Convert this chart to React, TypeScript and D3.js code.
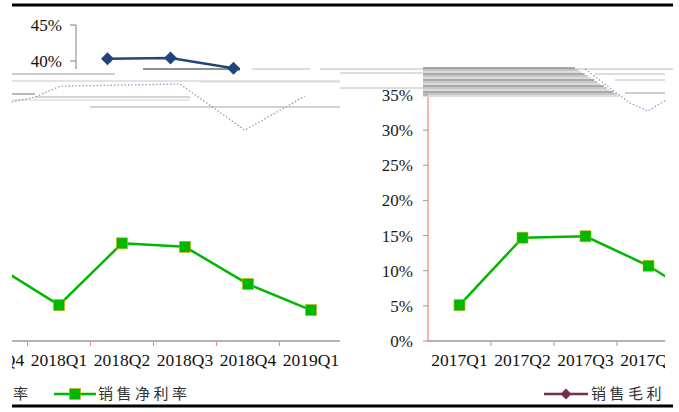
import React from "react";
import * as d3 from "d3";

// quarters and values
const quarters = ["2017Q1", "2017Q2", "2017Q3", "2017Q4", "2018Q1", "2018Q2", "2018Q3", "2018Q4", "2019Q1"];
const netMargin = [5.1, 14.7, 14.9, 10.7, 5.1, 13.9, 13.4, 8.1, 4.4];
const grossQuarters = ["2018Q1", "2018Q2", "2018Q3", "2018Q4"];
const grossMargin = [40.3, 40.4, 39.0, 37.6];
const ghostIdx = [-1.02, -0.65, -0.25, 1.65, 2.68, 3.63];
const ghostVals = [34.3, 35.0, 36.5, 36.8, 30.4, 35.1];
const rightTicks = [0, 5, 10, 15, 20, 25, 30, 35];
const topTicks = [40, 45];

const W = 679;
const H = 412;
const BW = 63;
const GREEN = "#00b800";
const NAVY = "#23467a";
const MAROON = "#722f4f";
const serif = "'Liberation Serif', 'Times New Roman', serif";
const cjk = "'Noto Sans CJK SC', sans-serif";

export default function App() {
  const yNet = d3.scaleLinear().domain([0, 35]).range([341, 95]);
  const xLeft = d3.scaleBand().domain(quarters).range([27.5 - 4 * BW, 27.5 + 5 * BW]);
  const xRight = d3.scaleBand().domain(quarters).range([428, 428 + 9 * BW]);
  const xTop = d3.scaleBand().domain(grossQuarters).range([76, 76 + 4 * BW]);
  const yTop = d3.scaleLinear().domain([40, 45]).range([61, 25]);
  const xGhost = d3.scaleLinear().domain([0, 1]).range([76, 76 + BW]);

  const netLine = (x: d3.ScaleBand<string>) =>
    d3.line<number>().x((_, i) => (x(quarters[i]) as number) + BW / 2).y((d) => yNet(d))(netMargin) as string;
  const grossLine = d3.line<number>().x((_, i) => (xTop(grossQuarters[i]) as number) + BW / 2).y((d) => yTop(d))(grossMargin) as string;
  const ghostLine = d3.line<number>().x((_, i) => xGhost(ghostIdx[i])).y((d) => yTop(d))(ghostVals) as string;

  // glitch strips (decoration)
  const rightRows = d3.range(68, 98, 2);
  const leftRows: [number, number, number, string][] = [
    [74, 12, 115, "#9a9a9a"],
    [81, 12, 340, "#c8c8c8"],
    [94, 12, 35, "#888"],
    [97, 35, 190, "#aaa"],
    [100, 12, 190, "#d0d0d0"],
    [107, 90, 340, "#a8a8a8"],
    [69, 143, 240, "#222"],
    [69, 252, 310, "#bbb"],
    [69, 320, 673, "#bbb"],
    [82, 200, 340, "#d8d8d8"],
  ];

  const sq = (cx: number, cy: number, k: number) => (
    <rect key={k} x={cx - 5.5} y={cy - 5.5} width={11} height={11} fill={GREEN} stroke="#c8b000" strokeWidth={0.6} />
  );
  const diamond = (cx: number, cy: number, r: number, c: string, k: number) => (
    <path key={k} d={`M${cx},${cy - r}L${cx + r},${cy}L${cx},${cy + r}L${cx - r},${cy}Z`} fill={c} />
  );

  const leftLabels = quarters.filter((q) => (xLeft(q) as number) + BW > 12);
  const rightLabels = quarters.filter((q) => (xRight(q) as number) < 665);

  return (
    <svg width={W} height={H} style={{ position: "absolute", left: 0, top: 0, background: "#fff" }}>
      <defs>
        <clipPath id="cl">
          <rect x={12} y={0} width={328} height={H} />
        </clipPath>
        <clipPath id="cr">
          <rect x={428} y={0} width={237} height={H} />
        </clipPath>
        <clipPath id="ct">
          <rect x={76} y={0} width={164} height={H} />
        </clipPath>
      </defs>

      {/* frame lines */}
      <line x1={12} x2={673} y1={5} y2={5} stroke="#000" strokeWidth={3} />
      <line x1={12} x2={673} y1={406} y2={406} stroke="#000" strokeWidth={3} />

      {/* glitch strips */}
      {leftRows.map(([y, a, b, c], i) => (
        <line key={"l" + i} x1={a} x2={b} y1={y} y2={y} stroke={c} strokeWidth={1.2} />
      ))}
      {rightRows.map((y, i) => (
        <line key={"r" + i} x1={423} x2={575 + (y - 68) * 1.6} y1={y} y2={y}
          stroke={i % 3 === 0 ? "#8c8c8c" : i % 3 === 1 ? "#b4b4b4" : "#d2d2d2"} strokeWidth={1.5} />
      ))}
      <line x1={340} x2={423} y1={73} y2={73} stroke="#bbb" />
      <line x1={340} x2={423} y1={88} y2={88} stroke="#bbb" />
      <line x1={595} x2={665} y1={74} y2={74} stroke="#bbb" />
      <line x1={615} x2={665} y1={80} y2={80} stroke="#bbb" />
      <line x1={625} x2={665} y1={93} y2={93} stroke="#999" />
      <path d="M585,69L630,103L648,111L666,100" fill="none" stroke="#8aa0c0" strokeWidth={1.2} strokeDasharray="1.5,2" />
      <path d={ghostLine} fill="none" stroke="#8aa0c0" strokeWidth={1.3} strokeDasharray="1.5,2" />

      {/* top-left gross margin fragment */}
      <line x1={76} x2={76} y1={25} y2={69} stroke="#808080" />
      {topTicks.map((t) => (
        <g key={t}>
          <line x1={70} x2={76} y1={yTop(t)} y2={yTop(t)} stroke="#808080" />
          <text x={62} y={yTop(t) + 6} textAnchor="end" fontFamily={serif} fontSize={17} fill="#111">{t}%</text>
        </g>
      ))}
      <g clipPath="url(#ct)">
        <path d={grossLine} fill="none" stroke={NAVY} strokeWidth={2.5} />
        {grossMargin.map((v, i) => diamond((xTop(grossQuarters[i]) as number) + BW / 2, yTop(v), 6.5, NAVY, i))}
      </g>

      {/* left net margin */}
      <line x1={12} x2={340} y1={341} y2={341} stroke="#9a9a9a" strokeWidth={1.5} />
      {quarters.map((q) => {
        const x0 = xLeft(q) as number;
        return x0 > 12 && x0 < 340 ? (
          <line key={"tl" + q} x1={x0} x2={x0} y1={342} y2={346} stroke="#e88" />
        ) : null;
      })}
      <g clipPath="url(#cl)">
        {leftLabels.map((q) => (
          <text key={"ql" + q} x={(xLeft(q) as number) + BW / 2} y={366} textAnchor="middle" fontFamily={serif} fontSize={17.5} fill="#111">{q}</text>
        ))}
        <path d={netLine(xLeft)} fill="none" stroke={GREEN} strokeWidth={2.5} />
        {netMargin.map((v, i) => sq((xLeft(quarters[i]) as number) + BW / 2, yNet(v), i))}
      </g>

      {/* right net margin */}
      <line x1={428} x2={428} y1={97} y2={341} stroke="#f08080" strokeWidth={1.2} />
      {rightTicks.map((t) => (
        <g key={"rt" + t}>
          <line x1={423} x2={428} y1={yNet(t)} y2={yNet(t)} stroke="#999" />
          <text x={413} y={yNet(t) + 6} textAnchor="end" fontFamily={serif} fontSize={17} fill="#1a1a1a">{t}%</text>
        </g>
      ))}
      <line x1={428} x2={665} y1={341} y2={341} stroke="#9a9a9a" strokeWidth={1.5} />
      {quarters.map((q) => {
        const x0 = xRight(q) as number;
        return x0 > 428 && x0 < 665 ? (
          <line key={"tr" + q} x1={x0} x2={x0} y1={342} y2={346} stroke="#99a" />
        ) : null;
      })}
      <g clipPath="url(#cr)">
        {rightLabels.map((q) => (
          <text key={"qr" + q} x={(xRight(q) as number) + BW / 2} y={366} textAnchor="middle" fontFamily={serif} fontSize={17.5} fill="#111">{q}</text>
        ))}
        <path d={netLine(xRight)} fill="none" stroke={GREEN} strokeWidth={2.5} />
        {netMargin.map((v, i) => sq((xRight(quarters[i]) as number) + BW / 2, yNet(v), i))}
      </g>

      {/* legends */}
      <text x={13} y={399} fontFamily={cjk} fontSize={15} fill="#333">率</text>
      <line x1={54} x2={96} y1={394} y2={394} stroke={GREEN} strokeWidth={2.5} />
      {sq(75, 394, 99)}
      <text x={98} y={399} fontFamily={cjk} fontSize={15} letterSpacing={3.5} fill="#333">销售净利率</text>
      <line x1={544} x2={588} y1={394} y2={394} stroke={MAROON} strokeWidth={2.5} />
      {diamond(566, 394, 5.5, MAROON, 98)}
      <text x={591} y={399} fontFamily={cjk} fontSize={15} letterSpacing={3.5} fill="#333">销售毛利</text>
    </svg>
  );
}
